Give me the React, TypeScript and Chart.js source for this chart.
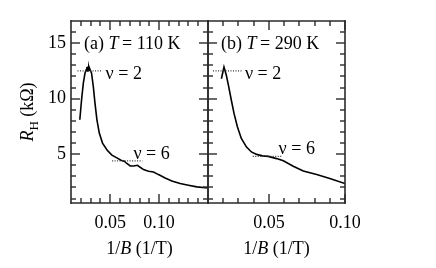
import React, { useEffect, useRef } from 'react';
import { Chart, registerables } from 'chart.js';
Chart.register(...registerables);

// ---- data: panel (a) T = 110 K ----
const invBA = [0.019, 0.0208, 0.0226, 0.0243, 0.0255, 0.0262, 0.0268, 0.0272, 0.0277, 0.0282, 0.0287, 0.0294, 0.031, 0.0328, 0.0345, 0.0365, 0.0389, 0.0422, 0.047, 0.0518, 0.0569, 0.061, 0.0644, 0.0671, 0.0705, 0.0739, 0.078, 0.0807, 0.0841, 0.0892, 0.0943, 0.0994, 0.1062, 0.1131, 0.1215, 0.13, 0.1386, 0.15];
const rHA = [8.1, 9.9, 11.4, 12.3, 12.6, 12.85, 12.5, 12.9, 12.55, 12.8, 12.6, 12.65, 12.3, 11.1, 9.6, 8.1, 6.9, 6.0, 5.36, 4.91, 4.67, 4.46, 4.37, 4.16, 3.94, 3.94, 4.0, 3.82, 3.61, 3.46, 3.4, 3.16, 2.86, 2.58, 2.35, 2.2, 2.05, 1.95];

// ---- data: panel (b) T = 290 K ----
const invBB = [0.0188, 0.0205, 0.022, 0.0236, 0.0253, 0.0271, 0.0293, 0.0319, 0.0352, 0.0385, 0.042, 0.0458, 0.0496, 0.0551, 0.0595, 0.066, 0.0726, 0.0814, 0.09, 0.1];
const rHB = [11.8, 12.85, 12.14, 11.08, 9.88, 8.67, 7.47, 6.42, 5.66, 5.2, 4.98, 4.85, 4.8, 4.6, 4.4, 3.91, 3.49, 3.16, 2.8, 2.35];

// ---- quantized plateau markers ----
const nu2Y = 12.5;
const nu2XA = [0.0167, 0.0423];
const nu6YA = 4.4;
const nu6XA = [0.052, 0.083];
const nu2XB = [0.0133, 0.0323];
const nu6YB = 4.8;
const nu6XB = [0.0394, 0.059];

// ---- axes ----
const yMin = 0.6, yMax = 17;
const xRangeA = [0.01, 0.15];
const xRangeB = [0.01, 0.1];
const yMajor = [5, 10, 15];
const yMinor = [1, 2, 3, 4, 6, 7, 8, 9, 11, 12, 13, 14, 16];
const xMajor = [0.05, 0.1];
const xMinorA = [0.02, 0.03, 0.04, 0.06, 0.07, 0.08, 0.09, 0.11, 0.12, 0.13, 0.14];
const xMinorB = [0.02, 0.03, 0.04, 0.06, 0.07, 0.08, 0.09];

const FONT = '"Liberation Serif", "Times New Roman", serif';
const FS = 18;

type Part = { t: string; italic?: boolean; sub?: boolean };

function partFont(p: Part) {
  const s = p.sub ? FS * 0.72 : FS;
  return `${p.italic ? 'italic ' : ''}${s}px ${FONT}`;
}
function measureParts(ctx: CanvasRenderingContext2D, parts: Part[]) {
  let w = 0;
  for (const p of parts) {
    ctx.font = partFont(p);
    w += ctx.measureText(p.t).width;
  }
  return w;
}
function drawParts(ctx: CanvasRenderingContext2D, parts: Part[], x: number, y: number) {
  let cx = x;
  ctx.textAlign = 'left';
  ctx.textBaseline = 'alphabetic';
  for (const p of parts) {
    ctx.font = partFont(p);
    ctx.fillText(p.t, cx, y + (p.sub ? FS * 0.28 : 0));
    cx += ctx.measureText(p.t).width;
  }
}

function seg(ctx: CanvasRenderingContext2D, x1: number, y1: number, x2: number, y2: number) {
  ctx.beginPath();
  ctx.moveTo(x1, y1);
  ctx.lineTo(x2, y2);
  ctx.stroke();
}

function makePlugin(panel: 'a' | 'b') {
  const xr = panel === 'a' ? xRangeA : xRangeB;
  return {
    id: 'decor' + panel,
    afterDraw(chart: any) {
      const ctx: CanvasRenderingContext2D = chart.ctx;
      const a = chart.chartArea;
      const xs = chart.scales.x, ys = chart.scales.y;
      const xPix = (v: number) => {
        const p = xs.getPixelForValue(v);
        return Number.isFinite(p) ? p : a.left + ((v - xr[0]) / (xr[1] - xr[0])) * (a.right - a.left);
      };
      const yPix = (v: number) => {
        const p = ys.getPixelForValue(v);
        return Number.isFinite(p) ? p : a.bottom - ((v - yMin) / (yMax - yMin)) * (a.bottom - a.top);
      };
      const L = Math.round(a.left), R = Math.round(a.right);
      const T = Math.round(a.top), B = Math.round(a.bottom);
      ctx.save();
      ctx.setLineDash([]);
      ctx.globalAlpha = 1;
      ctx.strokeStyle = '#2a2a2a';
      ctx.lineWidth = 1.6;
      ctx.lineCap = 'square';
      seg(ctx, L, T, R, T);
      seg(ctx, R, T, R, B);
      seg(ctx, R, B, L, B);
      seg(ctx, L, B, L, T);
      ctx.lineCap = 'butt';
      ctx.lineWidth = 1.4;
      const xMinor = panel === 'a' ? xMinorA : xMinorB;
      const tickX = (v: number, len: number) => {
        const px = Math.round(xPix(v));
        seg(ctx, px, B, px, B - len);
        seg(ctx, px, T, px, T + len);
      };
      const tickY = (v: number, len: number) => {
        const py = Math.round(yPix(v));
        seg(ctx, L, py, L + len, py);
        seg(ctx, R, py, R - len, py);
      };
      for (const v of xMinor) tickX(v, 5);
      for (const v of xMajor) tickX(v, 9);
      for (const v of yMinor) tickY(v, 5);
      for (const v of yMajor) tickY(v, 9);

      ctx.fillStyle = '#000';
      // panel label
      const label: Part[] = panel === 'a'
        ? [{ t: '(a) ' }, { t: 'T', italic: true }, { t: '\u2009= 110 K' }]
        : [{ t: '(b) ' }, { t: 'T', italic: true }, { t: '\u2009= 290 K' }];
      drawParts(ctx, label, a.left + 13, yPix(15) + 6);

      // plateau labels
      const nu2 = panel === 'a' ? nu2XA : nu2XB;
      drawParts(ctx, [{ t: 'ν = 2' }], xPix(nu2[1]) + 3, yPix(nu2Y) + 8);
      const nu6 = panel === 'a' ? nu6XA : nu6XB;
      const nu6Y = panel === 'a' ? nu6YA : nu6YB;
      drawParts(ctx, [{ t: 'ν = 6' }], xPix(nu6[1]) - (panel === 'a' ? 9 : 4), yPix(nu6Y) - 2);

      // x title
      const xt: Part[] = [{ t: '1/' }, { t: 'B', italic: true }, { t: ' (1/T)' }];
      const w = measureParts(ctx, xt);
      drawParts(ctx, xt, (a.left + a.right) / 2 - w / 2, 254);

      // y title
      if (panel === 'a') {
        const yt: Part[] = [{ t: 'R', italic: true }, { t: 'H', sub: true }, { t: ' (kΩ)' }];
        const wy = measureParts(ctx, yt);
        ctx.translate(33, (a.top + a.bottom) / 2);
        ctx.rotate(-Math.PI / 2);
        drawParts(ctx, yt, -wy / 2, 0);
      }
      ctx.restore();
    },
  };
}

function pts(xs: number[], ys: number[]) {
  return xs.map((x, i) => ({ x, y: ys[i] }));
}
function hline(xs: number[], y: number) {
  return xs.map((x) => ({ x, y }));
}

function buildConfig(panel: 'a' | 'b') {
  const isA = panel === 'a';
  const curve = isA ? pts(invBA, rHA) : pts(invBB, rHB);
  const dot = { borderColor: '#333', borderWidth: 1.2, borderDash: [1, 1.5], pointRadius: 0, fill: false };
  const datasets: any[] = [
    { data: hline(isA ? nu2XA : nu2XB, nu2Y), ...dot },
    { data: hline(isA ? nu6XA : nu6XB, isA ? nu6YA : nu6YB), ...dot },
    { data: curve, borderColor: '#000', borderWidth: 1.6, pointRadius: 0, tension: 0, fill: false },
  ];
  const xr = isA ? xRangeA : xRangeB;
  return {
    type: 'line' as const,
    data: { datasets },
    plugins: [makePlugin(panel)],
    options: {
      animation: false as const,
      responsive: false,
      maintainAspectRatio: false,
      layout: { padding: isA ? { left: 0, right: 228, top: 21, bottom: 0 } : { left: 208, right: 91, top: 21, bottom: 0 } },
      plugins: { legend: { display: false }, tooltip: { enabled: false } },
      scales: {
        x: {
          type: 'linear' as const,
          min: xr[0],
          max: xr[1],
          grid: { display: false, drawTicks: false },
          border: { display: false },
          afterBuildTicks: (s: any) => { s.ticks = xMajor.map((v) => ({ value: v })); },
          afterFit: (s: any) => { s.height = 65; },
          ticks: {
            color: '#000',
            padding: 9,
            maxRotation: 0,
            autoSkip: false,
            font: { family: FONT, size: FS },
            callback: (v: any) => Number(v).toFixed(2),
          },
        },
        y: {
          type: 'linear' as const,
          display: isA,
          min: yMin,
          max: yMax,
          grid: { display: false, drawTicks: false },
          border: { display: false },
          afterBuildTicks: (s: any) => { s.ticks = yMajor.map((v) => ({ value: v })); },
          afterFit: (s: any) => { s.width = isA ? 71 : 0; },
          ticks: {
            color: '#000',
            padding: 5,
            font: { family: FONT, size: FS },
            callback: (v: any) => String(v),
          },
        },
      },
    },
  };
}

function Panel({ panel }: { panel: 'a' | 'b' }) {
  const ref = useRef<HTMLCanvasElement | null>(null);
  useEffect(() => {
    if (!ref.current) return;
    const chart = new Chart(ref.current, buildConfig(panel) as any);
    return () => chart.destroy();
  }, [panel]);
  return (
    <canvas
      ref={ref}
      width={436}
      height={268}
      style={{ position: 'absolute', left: 0, top: 0, width: 436, height: 268 }}
    />
  );
}

export default function App() {
  return (
    <div style={{ position: 'fixed', left: 0, top: 0, width: 436, height: 268, background: '#fff' }}>
      <Panel panel="a" />
      <Panel panel="b" />
    </div>
  );
}
